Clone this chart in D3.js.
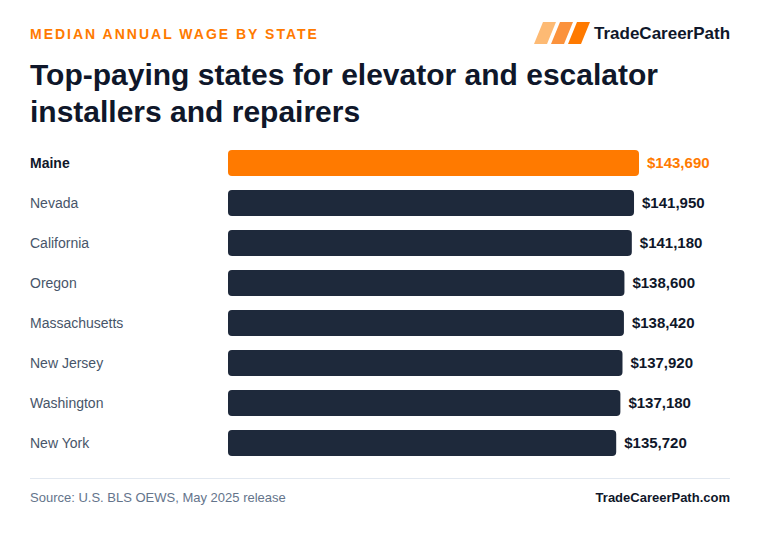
<!DOCTYPE html>
<html>
<head>
<meta charset="utf-8">
<script src="https://cdn.jsdelivr.net/npm/d3@7"></script>
<style>
  body { margin: 0; background: #fff; }
  svg { font-family: "Liberation Sans", Arial, sans-serif; display: block; }
</style>
</head>
<body>
<div id="chart"></div>
<script>
// Data
const states = ["Maine", "Nevada", "California", "Oregon", "Massachusetts", "New Jersey", "Washington", "New York"];
const wages = [143690, 141950, 141180, 138600, 138420, 137920, 137180, 135720];
const highlight = "Maine";

const W = 760, H = 534;
const svg = d3.select("#chart").append("svg")
    .attr("width", W)
    .attr("height", H);

svg.append("rect").attr("width", W).attr("height", H).attr("fill", "#fff");

// Header
svg.append("text")
    .attr("x", 30).attr("y", 39)
    .attr("fill", "#ff7a00")
    .attr("font-size", 14)
    .attr("font-weight", 700)
    .attr("letter-spacing", 2)
    .text("MEDIAN ANNUAL WAGE BY STATE");

// Logo
const logo = svg.append("g").attr("transform", "translate(534,22)");
const logoColors = ["#fdba74", "#fb923c", "#ff7a00"];
logoColors.forEach((c, i) => {
    const x0 = i * 17;
    logo.append("path")
        .attr("d", `M${x0 + 9},0 L${x0 + 22},0 L${x0 + 13},22 L${x0},22 Z`)
        .attr("fill", c);
});
svg.append("text")
    .attr("x", 594).attr("y", 39)
    .attr("fill", "#0f172a")
    .attr("font-size", 17)
    .attr("font-weight", 700)
    .text("TradeCareerPath");

// Title
const title = svg.append("text")
    .attr("fill", "#0f172a")
    .attr("font-size", 30)
    .attr("font-weight", 700);
title.append("tspan").attr("x", 30).attr("y", 85).text("Top-paying states for elevator and escalator");
title.append("tspan").attr("x", 30).attr("y", 122).text("installers and repairers");

// Scales
const x = d3.scaleLinear()
    .domain([0, d3.max(wages)])
    .range([0, 411]);

const y = d3.scaleBand()
    .domain(states)
    .range([143, 463])
    .paddingInner(0.35)
    .paddingOuter(0.175);

const data = states.map((s, i) => ({ state: s, wage: wages[i] }));
const barX = 228;

const rows = svg.append("g").selectAll("g")
    .data(data)
    .join("g");

rows.append("rect")
    .attr("x", barX)
    .attr("y", d => y(d.state))
    .attr("width", d => x(d.wage))
    .attr("height", y.bandwidth())
    .attr("rx", 4)
    .attr("fill", d => d.state === highlight ? "#ff7a00" : "#1e293b");

rows.append("text")
    .attr("x", 30)
    .attr("y", d => y(d.state) + y.bandwidth() / 2)
    .attr("dy", "0.35em")
    .attr("font-size", 14)
    .attr("font-weight", d => d.state === highlight ? 700 : 400)
    .attr("fill", d => d.state === highlight ? "#0f172a" : "#475569")
    .text(d => d.state);

rows.append("text")
    .attr("x", d => barX + x(d.wage) + 8)
    .attr("y", d => y(d.state) + y.bandwidth() / 2)
    .attr("dy", "0.35em")
    .attr("font-size", 15)
    .attr("font-weight", 700)
    .attr("fill", d => d.state === highlight ? "#ff7a00" : "#0f172a")
    .text(d => "$" + d3.format(",")(d.wage));

// Footer
svg.append("line")
    .attr("x1", 30).attr("x2", 730)
    .attr("y1", 478.5).attr("y2", 478.5)
    .attr("stroke", "#e2e8f0")
    .attr("stroke-width", 1);

svg.append("text")
    .attr("x", 30).attr("y", 502)
    .attr("font-size", 13)
    .attr("fill", "#64748b")
    .text("Source: U.S. BLS OEWS, May 2025 release");

svg.append("text")
    .attr("x", 730).attr("y", 502)
    .attr("text-anchor", "end")
    .attr("font-size", 13)
    .attr("font-weight", 700)
    .attr("fill", "#0f172a")
    .text("TradeCareerPath.com");
</script>
</body>
</html>
